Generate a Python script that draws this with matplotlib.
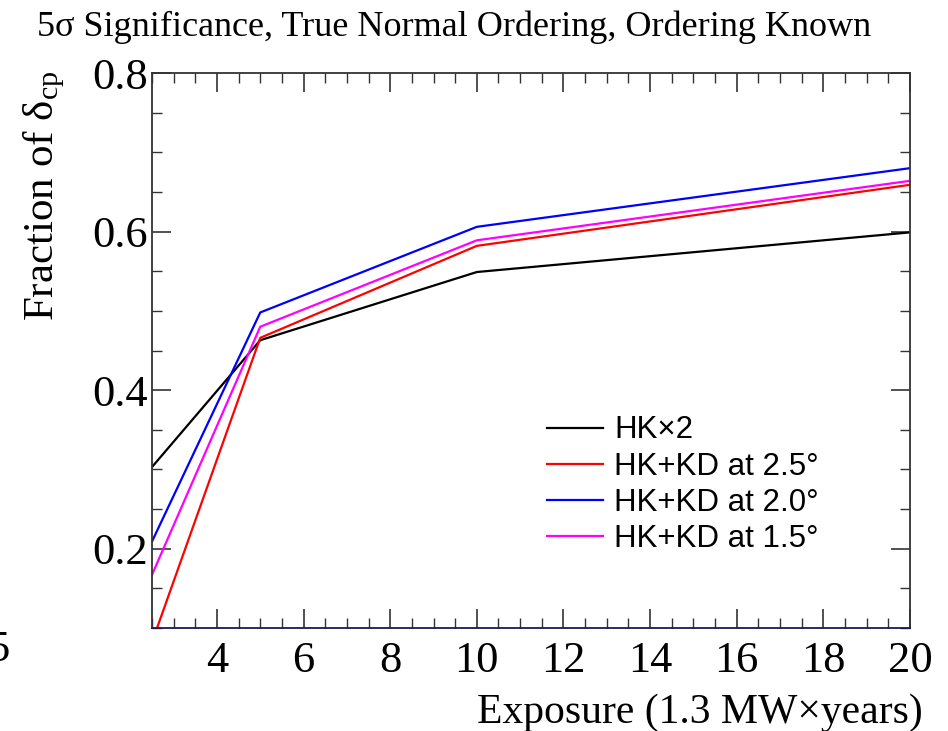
import matplotlib.pyplot as plt
from matplotlib.ticker import MultipleLocator

# exposure in units of 1.3 MW x years
exposure = [2.5, 5, 10, 20]
hk_x2 = [0.303, 0.463, 0.549, 0.599]
hkkd_25 = [0.082, 0.466, 0.582, 0.659]
hkkd_20 = [0.209, 0.498, 0.606, 0.680]
hkkd_15 = [0.167, 0.480, 0.589, 0.664]

labels = ['HK\u00d72', 'HK+KD at 2.5\u00b0', 'HK+KD at 2.0\u00b0', 'HK+KD at 1.5\u00b0']
colors = ['black', 'red', 'blue', 'magenta']

serif = 'Liberation Serif'
sans = 'Liberation Sans'
plt.rcParams['mathtext.fontset'] = 'custom'
plt.rcParams['mathtext.rm'] = serif
plt.rcParams['mathtext.it'] = serif + ':italic'

fig = plt.figure(figsize=(9.48, 7.31), dpi=100)
ax = fig.add_axes([0.1603, 0.1409, 0.7996, 0.7592])

for ys, lab, c in zip([hk_x2, hkkd_25, hkkd_20, hkkd_15], labels, colors):
    ax.plot(exposure, ys, color=c, lw=1.6, label=lab)

ax.set_xlim(2.5, 20)
ax.set_ylim(0.1, 0.8)
ax.xaxis.set_major_locator(MultipleLocator(2))
ax.xaxis.set_minor_locator(MultipleLocator(0.5))
ax.yaxis.set_major_locator(MultipleLocator(0.2))
ax.yaxis.set_minor_locator(MultipleLocator(0.05))
ax.tick_params(which='both', direction='in', top=True, right=True, color='#333333')
ax.tick_params(which='major', length=14, width=1.2, labelsize=32)
ax.tick_params(which='minor', length=7, width=1.0)
ax.tick_params(axis='x', which='major', pad=9)
ax.tick_params(axis='y', which='major', pad=3)
ax.xaxis.set_major_formatter(plt.FuncFormatter(lambda v, p: '%g' % v))
ax.yaxis.set_major_formatter(plt.FuncFormatter(lambda v, p: '%.1f' % v))
for lab in ax.get_xticklabels() + ax.get_yticklabels():
    lab.set_fontfamily(serif)
for s in ax.spines.values():
    s.set_linewidth(1.3)
    s.set_color('#333333')
ax.spines['bottom'].set_color('#1a1a50')

ax.set_xlabel('Exposure (1.3 MW\u00d7years)', fontsize=30, family=serif,
              ha='right', va='center')
ax.xaxis.set_label_coords(1.017, -0.152)
ax.set_ylabel('Fraction of \u03b4$_{\\rm cp}$', fontsize=31, family=serif,
              ha='right', va='center')
ax.yaxis.set_label_coords(-0.1425, 1.005)

fig.text(0.039, 0.963, '5\u03c3 Significance, True Normal Ordering, Ordering Known',
         fontsize=26, family=serif, va='center', ha='left')
fig.text(-0.013, 0.111, '5', fontsize=32, family=serif, va='center', ha='left')

leg = ax.legend(loc='upper left', bbox_to_anchor=(0.521, 0.383), frameon=False,
                prop={'family': sans, 'size': 22.5}, handlelength=1.8,
                handletextpad=0.35, labelspacing=0.2, borderpad=0,
                borderaxespad=0)

fig.savefig('out.png', dpi=100)
